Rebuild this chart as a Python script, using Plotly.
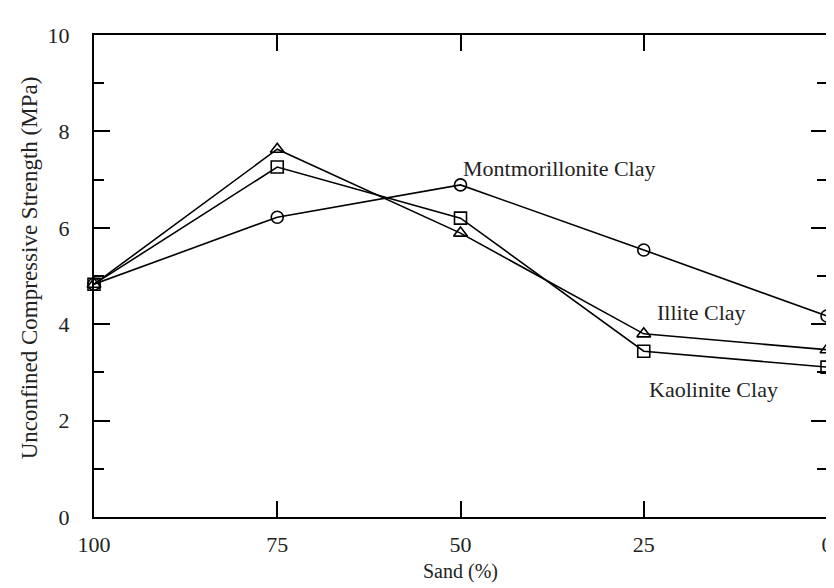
import plotly.graph_objects as go

sand = [100, 75, 50, 25, 0]
montmorillonite = [4.83, 6.22, 6.89, 5.54, 4.17]
illite = [4.83, 7.63, 5.89, 3.80, 3.47]
kaolinite = [4.83, 7.26, 6.20, 3.44, 3.11]

x_ticks = [100, 75, 50, 25, 0]
y_ticks = [0, 2, 4, 6, 8, 10]

labels = ["Montmorillonite Clay", "Illite Clay", "Kaolinite Clay"]
label_x = [50, 23.4, 24.6]
label_y = [7.24, 4.25, 2.64]

FONT = "Liberation Serif, Times New Roman, serif"

fig = go.Figure()
series = [(montmorillonite, "circle-open"), (illite, "triangle-up-open"), (kaolinite, "square-open")]
for vals, sym in series:
    fig.add_trace(go.Scatter(
        x=sand, y=vals, mode="lines+markers",
        line=dict(color="black", width=1.6),
        marker=dict(symbol=sym, size=12, color="black", line=dict(width=1.6, color="black")),
        showlegend=False, cliponaxis=False,
    ))

for t, xx, yy in zip(labels, label_x, label_y):
    fig.add_annotation(x=xx, y=yy, text=t, xref="x", yref="y", showarrow=False,
                       xanchor="left", yanchor="middle",
                       font=dict(family=FONT, size=22, color="#222"))

fig.add_annotation(x=0.5, y=-0.113, xref="paper", yref="paper", text="Sand (%)", showarrow=False,
                   xanchor="center", yanchor="middle", font=dict(family=FONT, size=20, color="#222"))
fig.add_annotation(x=-0.088, y=0.517, xref="paper", yref="paper", text="Unconfined Compressive Strength (MPa)",
                   showarrow=False, textangle=-90, xanchor="center", yanchor="middle",
                   font=dict(family=FONT, size=23, color="#222"))

fig.update_xaxes(range=[100, 0], tickvals=x_ticks, ticktext=[str(v) for v in x_ticks],
                 ticks="inside", ticklen=16, tickwidth=2, tickcolor="black",
                 showline=True, linewidth=2, linecolor="black", mirror="ticks",
                 showgrid=False, zeroline=False,
                 tickfont=dict(family=FONT, size=22, color="#222"), ticklabelstandoff=7)
fig.update_yaxes(range=[0, 10], tickvals=y_ticks,
                 ticks="inside", ticklen=16, tickwidth=2, tickcolor="black",
                 minor=dict(tickvals=[1, 3, 5, 7, 9], ticks="inside", ticklen=10, tickwidth=2, tickcolor="black", showgrid=False),
                 showline=True, linewidth=2, linecolor="black", mirror="ticks",
                 showgrid=False, zeroline=False,
                 tickfont=dict(family=FONT, size=22, color="#222"), ticklabelstandoff=18)

fig.update_layout(width=834, height=588, plot_bgcolor="white", paper_bgcolor="white",
                  margin=dict(l=86, r=9, t=27, b=79))

fig.write_html("out.html")
